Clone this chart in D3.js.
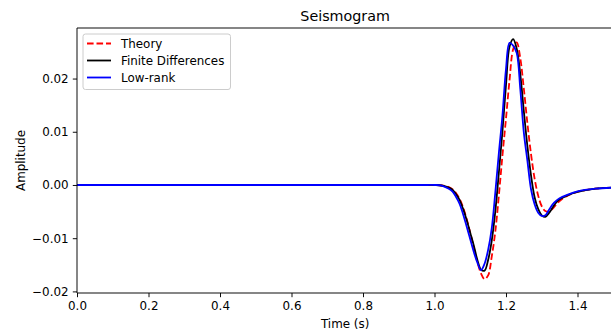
<!DOCTYPE html>
<html>
<head>
<meta charset="utf-8">
<script src="https://cdn.jsdelivr.net/npm/d3@7"></script>
<style>
  html, body { margin: 0; padding: 0; background: #fff; }
  svg { display: block; font-family: "DejaVu Sans", sans-serif; }
</style>
</head>
<body>
<svg id="chart" width="611" height="333"></svg>
<script>
// Sample times (s)
const time = [0, 0.25, 0.5, 0.75, 0.9, 0.95, 0.98, 1.00, 1.02, 1.04, 1.05, 1.06, 1.07, 1.08, 1.09, 1.10,
  1.11, 1.12, 1.13, 1.14, 1.15, 1.16, 1.17, 1.18, 1.19, 1.20,
  1.21, 1.22, 1.23, 1.24, 1.25, 1.26, 1.27, 1.28, 1.29, 1.30,
  1.31, 1.32, 1.33, 1.34, 1.35, 1.37, 1.40, 1.45, 1.50];

// Analytic trace
const theory = [0, 0, 0, 0, 0, 0, 0, 0, -0.0001, -0.0004, -0.0008, -0.0015, -0.0026, -0.0042, -0.0064, -0.0090,
  -0.0118, -0.0145, -0.0166, -0.0177, -0.0170, -0.0135, -0.0088, -0.0020, 0.0055, 0.0125,
  0.0198, 0.0255, 0.0268, 0.0238, 0.0180, 0.0115, 0.0058, 0.0012, -0.0020, -0.0040,
  -0.0049, -0.0050, -0.0045, -0.0037, -0.0030, -0.0021, -0.0013, -0.0007, -0.0005];

// Finite-difference trace
const finiteDiff = [0, 0, 0, 0, 0, 0, 0, 0, -0.0001, -0.0005, -0.0009, -0.0017, -0.0028, -0.0045, -0.0066, -0.0090,
  -0.0114, -0.0141, -0.0159, -0.0161, -0.0141, -0.0105, -0.0050, 0.0023, 0.0100, 0.0188,
  0.0260, 0.0274, 0.0256, 0.0208, 0.0138, 0.0072, 0.0018, -0.0023, -0.0045, -0.0057,
  -0.0060, -0.0053, -0.0043, -0.0033, -0.0027, -0.0020, -0.0013, -0.0007, -0.0005];

// Low-rank trace
const lowRank = [0, 0, 0, 0, 0, 0, 0, 0, -0.0001, -0.0007, -0.0012, -0.0022, -0.0035, -0.0055, -0.0078, -0.0102,
  -0.0126, -0.0146, -0.0160, -0.0148, -0.0122, -0.0082, -0.0015, 0.0060, 0.0130, 0.0218,
  0.0267, 0.0262, 0.0248, 0.0180, 0.0098, 0.0045, -0.0008, -0.0036, -0.0052, -0.0058,
  -0.0057, -0.0047, -0.0037, -0.0030, -0.0025, -0.0019, -0.0012, -0.0007, -0.0005];

const xTicks = [0.0, 0.2, 0.4, 0.6, 0.8, 1.0, 1.2, 1.4];
const yTicks = [-0.02, -0.01, 0.00, 0.01, 0.02];

const seriesNames = ["Theory", "Finite Differences", "Low-rank"];
const seriesColors = ["#ff0000", "#000000", "#0000ff"];
const seriesDash = ["6.6,2.9", null, null];
const seriesValues = [theory, finiteDiff, lowRank];

const plotLeft = 77, plotTop = 28, plotBottom = 293, plotRight = 613.25;
const fontSize = 11.9, titleSize = 14.3, tickLen = 4.2;

const svg = d3.select("#chart");

const x = d3.scaleLinear().domain([0, 1.5]).range([plotLeft, plotRight]);
const y = d3.scaleLinear().domain([-0.0203, 0.0295]).range([plotBottom, plotTop]);

const fmtMinus = s => s.replace("-", "\u2212");

// Clip region for the traces
svg.append("defs").append("clipPath").attr("id", "plotclip")
  .append("rect").attr("x", plotLeft).attr("y", plotTop)
  .attr("width", plotRight - plotLeft).attr("height", plotBottom - plotTop);

// Traces
const line = d3.line()
  .x((d, i) => x(time[i]))
  .y(d => y(d))
  .curve(d3.curveCatmullRom.alpha(0.5));

const traces = svg.append("g").attr("clip-path", "url(#plotclip)");
seriesValues.forEach((vals, k) => {
  traces.append("path")
    .datum(vals)
    .attr("d", line)
    .attr("fill", "none")
    .attr("stroke", seriesColors[k])
    .attr("stroke-width", 1.8)
    .attr("stroke-linejoin", "round")
    .attr("stroke-dasharray", seriesDash[k]);
});

// Axes
const xAxis = d3.axisBottom(x).tickValues(xTicks).tickSize(tickLen).tickPadding(tickLen)
  .tickFormat(d3.format(".1f"));
const yAxis = d3.axisLeft(y).tickValues(yTicks).tickSize(tickLen).tickPadding(tickLen)
  .tickFormat(d => fmtMinus(d3.format(".2f")(d)));

const gx = svg.append("g").attr("transform", `translate(0,${plotBottom})`).call(xAxis);
const gy = svg.append("g").attr("transform", `translate(${plotLeft},0)`).call(yAxis);
[gx, gy].forEach(g => {
  g.select(".domain").remove();
  g.selectAll(".tick line").attr("stroke", "#000").attr("stroke-width", 0.95);
  g.selectAll(".tick text").attr("fill", "#000").attr("font-size", fontSize)
    .attr("font-family", "DejaVu Sans, sans-serif");
});

// Spines
const spine = (x1, y1, x2, y2) => svg.append("line")
  .attr("x1", x1).attr("y1", y1).attr("x2", x2).attr("y2", y2)
  .attr("stroke", "#000").attr("stroke-width", 0.95);
spine(plotLeft, plotTop, plotLeft, plotBottom);
spine(plotLeft, plotBottom, plotRight, plotBottom);
spine(plotLeft, plotTop, plotRight, plotTop);
spine(plotRight, plotTop, plotRight, plotBottom);

// Title and axis labels
svg.append("text").attr("x", (plotLeft + plotRight) / 2).attr("y", 21)
  .attr("text-anchor", "middle").attr("font-size", titleSize).text("Seismogram");
svg.append("text").attr("x", (plotLeft + plotRight) / 2).attr("y", 327.5)
  .attr("text-anchor", "middle").attr("font-size", fontSize).text("Time (s)");
svg.append("text").attr("transform", `translate(25,${(plotTop + plotBottom) / 2}) rotate(-90)`)
  .attr("text-anchor", "middle").attr("font-size", fontSize).text("Amplitude");

// Legend
const lg = svg.append("g");
lg.append("rect").attr("x", 83).attr("y", 34).attr("width", 147.5).attr("height", 55.5)
  .attr("rx", 2.5).attr("fill", "#fff").attr("fill-opacity", 0.8)
  .attr("stroke", "#cccccc").attr("stroke-width", 1);
seriesNames.forEach((name, k) => {
  const yy = 43.5 + k * 17;
  lg.append("line").attr("x1", 87).attr("x2", 111).attr("y1", yy).attr("y2", yy)
    .attr("stroke", seriesColors[k]).attr("stroke-width", 1.8)
    .attr("stroke-dasharray", seriesDash[k]);
  lg.append("text").attr("x", 121).attr("y", yy + 4.2)
    .attr("font-size", fontSize).text(name);
});
</script>
</body>
</html>
